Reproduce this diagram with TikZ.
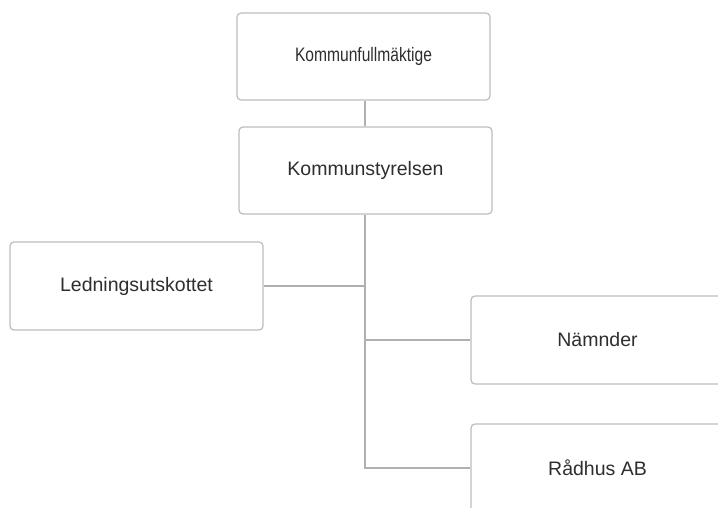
\documentclass[tikz,border=0pt]{standalone}
\usepackage{fontspec}
\setmainfont{Liberation Sans}
\definecolor{boxline}{HTML}{BDBDBD}
\definecolor{conn}{HTML}{B0B0B0}
\definecolor{txt}{HTML}{2E2E2E}
\begin{document}
\begin{tikzpicture}[x=1pt,y=-1pt,
  orgbox/.style={draw=boxline, line width=1.2pt, rounded corners=4pt, fill=white,
    minimum width=253pt, minimum height=87pt, inner sep=0pt,
    text=txt, font=\fontsize{19.5}{22}\selectfont},
  conline/.style={draw=conn, line width=1.2pt}]
\useasboundingbox (0,0) rectangle (718,508);
\fill[white] (0,0) rectangle (718,508);
\begin{scope}
\clip (0,0) rectangle (718,508);
\node[orgbox] (kf) at (363.5,56.5) {\scalebox{0.8}[1]{Kommunfullmäktige}};
\node[orgbox] (ks) at (365.5,170.5) {Kommunstyrelsen};
\node[orgbox, minimum height=88pt] (lu) at (136.5,286) {Ledningsutskottet};
\node[orgbox, minimum height=88pt] (nm) at (597.5,340) {Nämnder};
\node[orgbox, minimum height=88pt] (rh) at (597.5,468) {Rådhus AB};
\coordinate (trunk) at (365,0);
\coordinate (bottom) at (365,468);
\draw[conline] (kf.south -| trunk) -- (ks.north -| trunk);
\draw[conline] (ks.south -| trunk) -- (bottom) -- (rh.west);
\draw[conline] (lu.east) -- (lu.east -| trunk);
\draw[conline] (nm.west -| trunk) -- (nm.west);
\end{scope}
\end{tikzpicture}
\end{document}
